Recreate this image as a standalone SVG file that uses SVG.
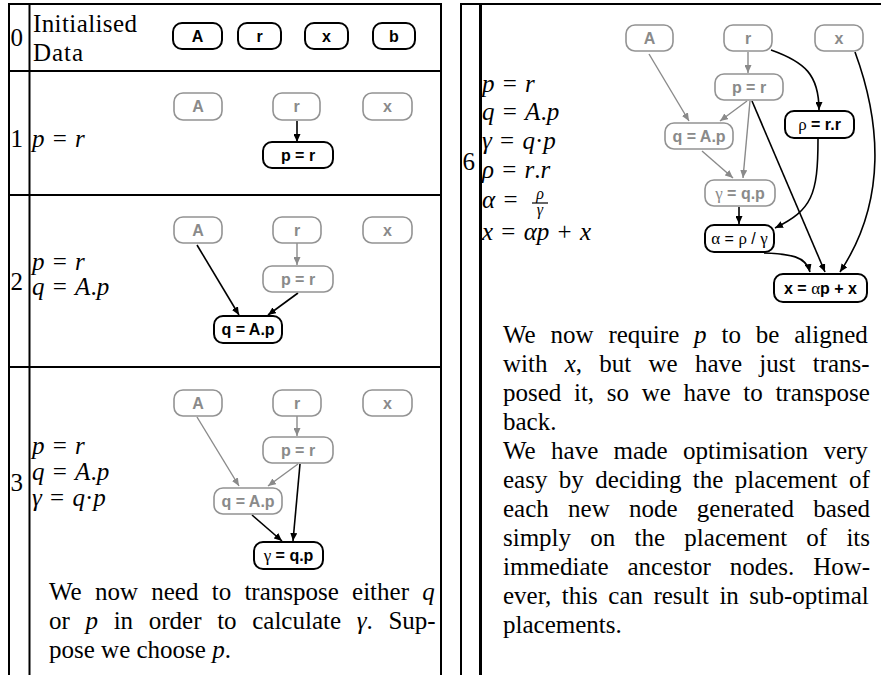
<svg xmlns="http://www.w3.org/2000/svg" width="881" height="675" viewBox="0 0 881 675">
<style>
.bg{fill:#fff}
.tl{stroke:#000;stroke-width:2;fill:none}
.tt{stroke:#000;stroke-width:3;fill:none}
.nb{fill:#fff;stroke:#000;stroke-width:2}
.ng{fill:#fff;stroke:#939393;stroke-width:1.6}
.tb{font-weight:bold;font-size:16px;fill:#000;text-anchor:middle}
.tg{font-weight:bold;font-size:16px;fill:#8a8a8a;text-anchor:middle}
.gk{font-weight:normal;font-family:"Liberation Serif",serif;font-size:17px}
.m{font-size:25px;fill:#000;word-spacing:2px}
.i{font-style:italic}
.p{font-size:25px;fill:#000}
.ab{stroke:#000;stroke-width:1.6;fill:none;marker-end:url(#mb)}
.ag{stroke:#8a8a8a;stroke-width:1.4;fill:none;marker-end:url(#mg)}
</style>
<defs>
<marker id="mb" markerUnits="userSpaceOnUse" markerWidth="9" markerHeight="7" refX="8" refY="3.5" orient="auto"><path d="M0,0 L8,3.5 L0,7 z" fill="#000"/></marker>
<marker id="mg" markerUnits="userSpaceOnUse" markerWidth="9" markerHeight="7" refX="8" refY="3.5" orient="auto"><path d="M0,0 L8,3.5 L0,7 z" fill="#8a8a8a"/></marker>
</defs>
<rect class="bg" x="0" y="0" width="881" height="675"/>

<g id="table-lines">
<path class="tl" d="M8,4 H442 M9,3 V675 M29.5,3 V675 M441,3 V675 M9,71 H441 M9,195 H441 M9,367 H441"/>
<path class="tl" d="M460,4 H881 M461,3 V675"/>
<path class="tt" d="M480.5,3 V675"/>
</g>

<g id="row-labels" class="m" font-family="Liberation Serif, Times New Roman, serif">
<text x="10.5" y="46">0</text>
<text x="10.5" y="147">1</text>
<text x="10.5" y="290">2</text>
<text x="10.5" y="491">3</text>
<text x="462.5" y="170">6</text>
</g>

<g id="row0-text" class="m" font-family="Liberation Serif, Times New Roman, serif">
<text x="33" y="32" textLength="104">Initialised</text>
<text x="33" y="61" textLength="50">Data</text>
</g>

<g id="math" class="m" font-family="Liberation Serif, Times New Roman, serif">
<text x="32" y="147"><tspan class="i">p</tspan> = <tspan class="i">r</tspan></text>
<text x="32" y="270"><tspan class="i">p</tspan> = <tspan class="i">r</tspan></text>
<text x="32" y="295"><tspan class="i">q</tspan> = <tspan class="i">A</tspan>.<tspan class="i">p</tspan></text>
<text x="32" y="454"><tspan class="i">p</tspan> = <tspan class="i">r</tspan></text>
<text x="32" y="480"><tspan class="i">q</tspan> = <tspan class="i">A</tspan>.<tspan class="i">p</tspan></text>
<text x="32" y="506"><tspan class="i">γ</tspan> = <tspan class="i">q</tspan>·<tspan class="i">p</tspan></text>
<text x="482" y="92"><tspan class="i">p</tspan> = <tspan class="i">r</tspan></text>
<text x="482" y="120"><tspan class="i">q</tspan> = <tspan class="i">A</tspan>.<tspan class="i">p</tspan></text>
<text x="482" y="149"><tspan class="i">γ</tspan> = <tspan class="i">q</tspan>·<tspan class="i">p</tspan></text>
<text x="482" y="178"><tspan class="i">ρ</tspan> = <tspan class="i">r</tspan>.<tspan class="i">r</tspan></text>
<text x="482" y="208"><tspan class="i">α</tspan> =</text>
<text x="540" y="199" font-size="16" text-anchor="middle" class="i">ρ</text>
<line x1="532" y1="203" x2="548" y2="203" stroke="#000" stroke-width="1.2"/>
<text x="540" y="215" font-size="16" text-anchor="middle" class="i">γ</text>
<text x="482" y="240"><tspan class="i">x</tspan> = <tspan class="i">αp</tspan> + <tspan class="i">x</tspan></text>
</g>

<g id="connectors">
<line class="ab" x1="297" y1="121" x2="297" y2="142"/>
<line class="ag" x1="297" y1="243" x2="297" y2="265"/>
<line class="ab" x1="197" y1="245" x2="239" y2="315"/>
<line class="ab" x1="298" y1="293" x2="268" y2="315"/>
<line class="ag" x1="297" y1="416" x2="297" y2="436"/>
<line class="ag" x1="197" y1="417" x2="239" y2="486"/>
<line class="ag" x1="298" y1="464" x2="268" y2="486"/>
<line class="ab" x1="252" y1="515" x2="282" y2="541"/>
<line class="ab" x1="300" y1="464" x2="293" y2="541"/>
<line class="ag" x1="748" y1="52" x2="748" y2="73"/>
<line class="ag" x1="649" y1="54" x2="689" y2="121"/>
<line class="ag" x1="747" y1="101" x2="720" y2="121"/>
<line class="ag" x1="750" y1="101" x2="743" y2="178"/>
<line class="ag" x1="702" y1="151" x2="733" y2="178"/>
<path class="ab" d="M771,50 C805,62 819,75 819,110"/>
<path class="ab" d="M855,52 C880,120 888,200 840,272"/>
<line class="ab" x1="752" y1="101" x2="825" y2="272"/>
<path class="ab" d="M818,139 C818,195 812,210 775,228"/>
<line class="ab" x1="739" y1="207" x2="739" y2="224"/>
<path class="ab" d="M764,253 C790,254 806,256 810,272"/>
</g>

<g font-family="Liberation Sans, Arial, sans-serif">
<g id="n0-A"><rect class="nb" x="173" y="23" width="49" height="26" rx="9"/><text class="tb" x="197.5" y="41.5">A</text></g>
<g id="n0-r"><rect class="nb" x="238" y="23" width="43" height="26" rx="9"/><text class="tb" x="259.5" y="41.5">r</text></g>
<g id="n0-x"><rect class="nb" x="305" y="23" width="43" height="26" rx="9"/><text class="tb" x="326.5" y="41.5">x</text></g>
<g id="n0-b"><rect class="nb" x="373" y="23" width="42" height="26" rx="9"/><text class="tb" x="394" y="41.5">b</text></g>

<g id="n1-A"><rect class="ng" x="174" y="93" width="48" height="27" rx="9"/><text class="tg" x="198" y="112">A</text></g>
<g id="n1-r"><rect class="ng" x="273" y="93" width="47" height="27" rx="9"/><text class="tg" x="296.5" y="112">r</text></g>
<g id="n1-x"><rect class="ng" x="363" y="93" width="49" height="27" rx="9"/><text class="tg" x="387.5" y="112">x</text></g>
<g id="n1-p"><rect class="nb" x="263" y="142" width="70" height="26" rx="9"/><text class="tb" x="298" y="160.5">p = r</text></g>

<g id="n2-A"><rect class="ng" x="174" y="217" width="48" height="26" rx="9"/><text class="tg" x="198" y="235.5">A</text></g>
<g id="n2-r"><rect class="ng" x="273" y="217" width="48" height="26" rx="9"/><text class="tg" x="297" y="235.5">r</text></g>
<g id="n2-x"><rect class="ng" x="363" y="217" width="49" height="26" rx="9"/><text class="tg" x="387.5" y="235.5">x</text></g>
<g id="n2-p"><rect class="ng" x="263" y="266" width="70" height="26" rx="9"/><text class="tg" x="298" y="284.5">p = r</text></g>
<g id="n2-q"><rect class="nb" x="214" y="316" width="68" height="27" rx="9"/><text class="tb" x="248" y="335">q = A.p</text></g>

<g id="n3-A"><rect class="ng" x="174" y="390" width="48" height="26" rx="9"/><text class="tg" x="198" y="408.5">A</text></g>
<g id="n3-r"><rect class="ng" x="273" y="390" width="48" height="26" rx="9"/><text class="tg" x="297" y="408.5">r</text></g>
<g id="n3-x"><rect class="ng" x="363" y="390" width="49" height="26" rx="9"/><text class="tg" x="387.5" y="408.5">x</text></g>
<g id="n3-p"><rect class="ng" x="263" y="437" width="70" height="26" rx="9"/><text class="tg" x="298" y="455.5">p = r</text></g>
<g id="n3-q"><rect class="ng" x="214" y="488" width="68" height="26" rx="9"/><text class="tg" x="248" y="506.5">q = A.p</text></g>
<g id="n3-g"><rect class="nb" x="254" y="542" width="69" height="27" rx="9"/><text class="tb" x="288.5" y="561"><tspan class="gk">γ</tspan> = q.p</text></g>

<g id="n6-A"><rect class="ng" x="626" y="25" width="47" height="26" rx="9"/><text class="tg" x="649.5" y="43.5">A</text></g>
<g id="n6-r"><rect class="ng" x="724" y="25" width="48" height="26" rx="9"/><text class="tg" x="748" y="43.5">r</text></g>
<g id="n6-x"><rect class="ng" x="815" y="25" width="48" height="26" rx="9"/><text class="tg" x="839" y="43.5">x</text></g>
<g id="n6-p"><rect class="ng" x="715" y="74" width="68" height="26" rx="9"/><text class="tg" x="749" y="92.5">p = r</text></g>
<g id="n6-rho"><rect class="nb" x="785" y="111" width="69" height="27" rx="9"/><text class="tb" x="819.5" y="130"><tspan class="gk">ρ</tspan> = r.r</text></g>
<g id="n6-q"><rect class="ng" x="665" y="123" width="68" height="26" rx="9"/><text class="tg" x="699" y="141.5">q = A.p</text></g>
<g id="n6-g"><rect class="ng" x="705" y="180" width="70" height="26" rx="9"/><text class="tg" x="740" y="198.5"><tspan class="gk">γ</tspan> = q.p</text></g>
<g id="n6-a"><rect class="nb" x="705" y="225" width="69" height="27" rx="9"/><text class="tb" x="739.5" y="244" style="font-weight:normal"><tspan class="gk">α</tspan> = <tspan class="gk">ρ</tspan> / <tspan class="gk">γ</tspan></text></g>
<g id="n6-X"><rect class="nb" x="774" y="274" width="93" height="28" rx="9"/><text class="tb" x="820.5" y="293.5">x = <tspan class="gk">α</tspan>p + x</text></g>
</g>

<g id="para3" class="p" font-family="Liberation Serif, Times New Roman, serif">
<text x="49" y="600" style="word-spacing:7px">We now need to transpose either <tspan class="i">q</tspan></text>
<text x="49" y="629" style="word-spacing:9.4px">or <tspan class="i">p</tspan> in order to calculate <tspan class="i">γ</tspan>. Sup-</text>
<text x="49" y="658">pose we choose <tspan class="i">p</tspan>.</text>
</g>

<g id="para6" class="p" font-family="Liberation Serif, Times New Roman, serif">
<text x="503" y="343" style="word-spacing:8.6px">We now require <tspan class="i">p</tspan> to be aligned</text>
<text x="503" y="372" style="word-spacing:11px">with <tspan class="i">x</tspan>, but we have just trans-</text>
<text x="503" y="401" style="word-spacing:6.4px">posed it, so we have to transpose</text>
<text x="503" y="430">back.</text>
<text x="503" y="459" style="word-spacing:9.1px">We have made optimisation very</text>
<text x="503" y="488" style="word-spacing:5.2px">easy by deciding the placement of</text>
<text x="503" y="517" style="word-spacing:13px">each new node generated based</text>
<text x="503" y="546" style="word-spacing:13px">simply on the placement of its</text>
<text x="503" y="575" style="word-spacing:12.7px">immediate ancestor nodes. How-</text>
<text x="503" y="604" style="word-spacing:4.2px">ever, this can result in sub-optimal</text>
<text x="503" y="633">placements.</text>
</g>
</svg>
